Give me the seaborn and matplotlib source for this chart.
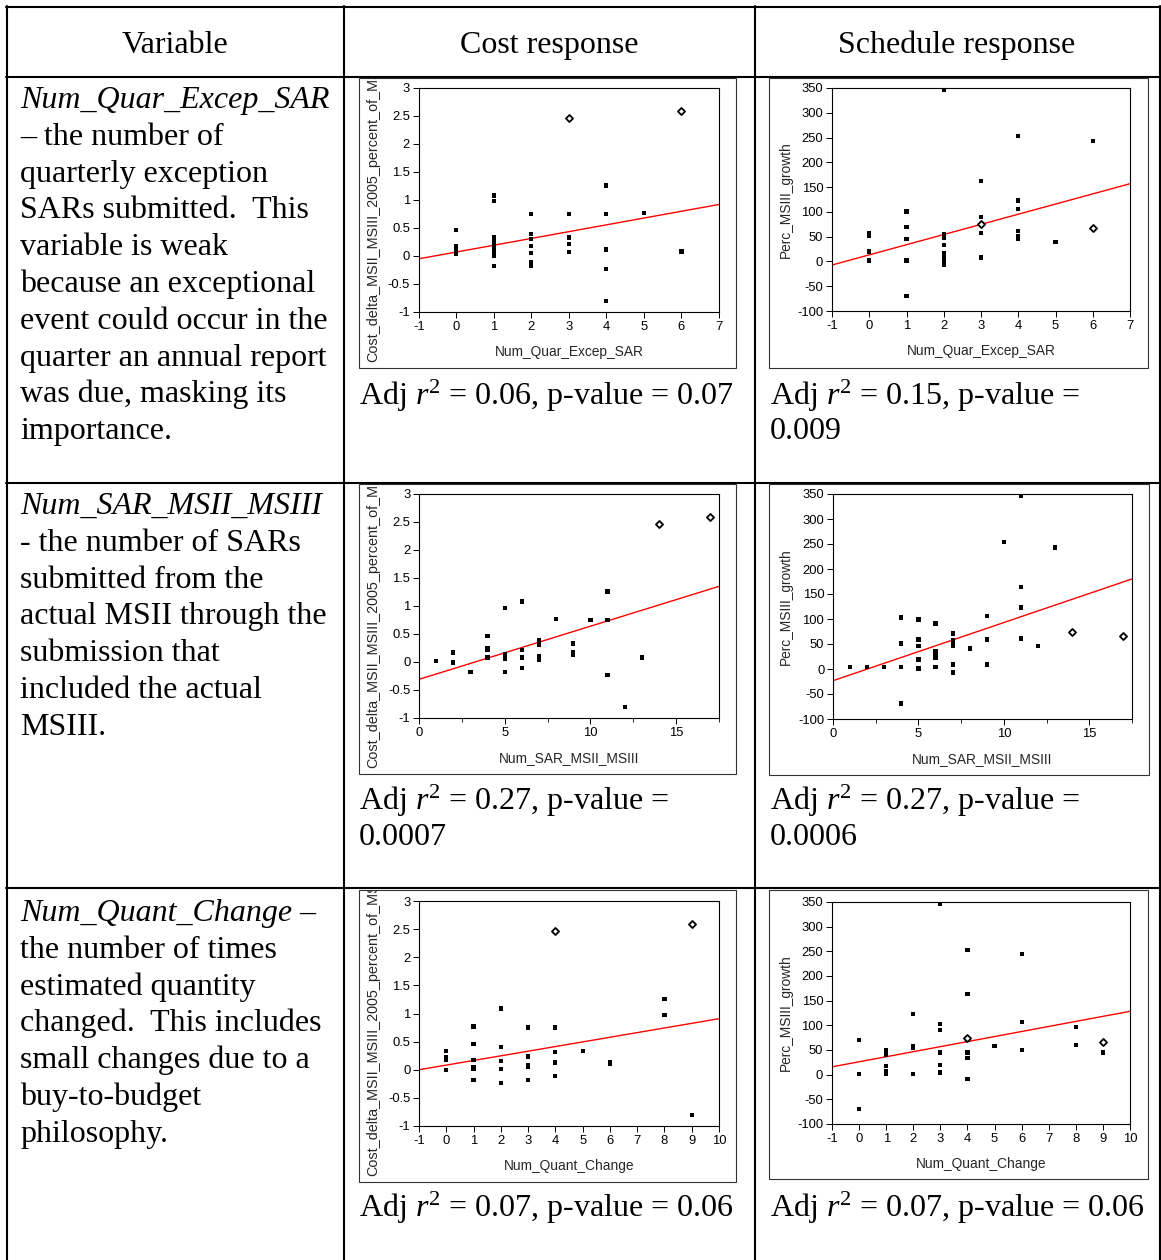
import numpy as np
import pandas as pd
import seaborn as sns
import matplotlib.pyplot as plt
from matplotlib.lines import Line2D
from matplotlib.patches import Rectangle
from matplotlib.ticker import FuncFormatter

# ---- data ----
quar_cost_x = [0, 0, 0, 0, 0, 1, 1, 1, 1, 1, 1, 1, 1, 1, 1, 1, 2, 2, 2, 2, 2, 2, 2, 2,
               3, 3, 3, 3, 4, 4, 4, 4, 4, 4, 5, 6]
quar_cost_y = [0.46, 0.17, 0.13, 0.08, 0.03, 1.08, 0.98, 0.33, 0.27, 0.22, 0.19, 0.14, 0.10,
               0.04, 0.01, -0.18, 0.75, 0.39, 0.31, 0.18, 0.05, -0.11, -0.15, -0.18,
               0.75, 0.33, 0.22, 0.07, 1.26, 0.75, 0.13, 0.10, -0.23, -0.80, 0.77, 0.08]

quar_sched_x = [0, 0, 0, 0, 1, 1, 1, 1, 1, 1, 1, 2, 2, 2, 2, 2, 2, 2, 2, 3, 3, 3, 3,
                4, 4, 4, 4, 4, 4, 5, 6]
quar_sched_y = [57, 52, 20, 2, 102, 99, 70, 45, 3, 2, -70, 346, 56, 48, 33, 17, 8, 2, -6,
                163, 90, 58, 8, 253, 123, 106, 61, 51, 45, 40, 243]

sar_cost_x = [1, 2, 2, 3, 4, 4, 4, 4, 5, 5, 5, 5, 5, 6, 6, 6, 6, 7, 7, 7, 7, 7, 7, 8,
              9, 9, 9, 10, 11, 11, 11, 12, 13]
sar_cost_y = [0.02, 0.17, -0.01, -0.18, 0.46, 0.24, 0.22, 0.08, 0.97, 0.15, 0.13, 0.05, -0.18,
              1.08, 0.22, 0.08, -0.11, 0.39, 0.35, 0.31, 0.10, 0.07, 0.04, 0.77,
              0.33, 0.17, 0.13, 0.75, 1.26, 0.75, -0.23, -0.80, 0.08]

sar_sched_x = [1, 2, 3, 4, 4, 4, 4, 5, 5, 5, 5, 5, 6, 6, 6, 6, 6, 7, 7, 7, 7, 7, 7, 8,
               9, 9, 9, 10, 11, 11, 11, 11, 12, 13]
sar_sched_y = [4, 4, 4, 103, 51, 4, -69, 99, 59, 46, 19, 1, 91, 35, 31, 22, 4,
               71, 58, 51, 46, 9, -7, 41, 106, 59, 9, 254, 346, 164, 123, 61, 46, 243]

quant_cost_x = [0, 0, 0, 0, 1, 1, 1, 1, 1, 1, 2, 2, 2, 2, 2, 3, 3, 3, 3, 3, 3,
                4, 4, 4, 4, 5, 6, 6, 8, 8, 9]
quant_cost_y = [0.33, 0.22, 0.18, 0.0, 0.77, 0.46, 0.17, 0.04, 0.02, -0.18, 1.09, 0.40, 0.15,
                0.02, -0.23, 0.75, 0.24, 0.22, 0.09, 0.05, -0.18, 0.75, 0.31, 0.13, -0.11,
                0.33, 0.13, 0.10, 1.26, 0.97, -0.80]

quant_sched_x = [0, 0, 0, 1, 1, 1, 1, 1, 1, 2, 2, 2, 2, 3, 3, 3, 3, 3, 3, 3,
                 4, 4, 4, 4, 4, 4, 5, 6, 6, 6, 8, 8, 9]
quant_sched_y = [70, 2, -70, 50, 41, 18, 8, 4, 1, 123, 57, 55, 2, 346, 102, 91, 45, 20, 6, 4,
                 253, 163, 70, 45, 33, -8, 58, 244, 106, 50, 97, 60, 45]

# the two flagged programs (diamonds)
quar_out = [3, 6]
sar_out = [14, 17]
quant_out = [4, 9]
cost_out = [2.46, 2.59]
sched_out = [75, 67]

# fitted lines (intercept, slope)
fit_quar_cost = (0.071, 0.1213)
fit_quar_sched = (13.3, 20.5)
fit_sar_cost = (-0.31, 0.0949)
fit_sar_sched = (-23.4, 11.63)
fit_quant_cost = (0.0825, 0.0825)
fit_quant_sched = (26.1, 10.23)

cost_ticks = [-1, -0.5, 0, 0.5, 1, 1.5, 2, 2.5, 3]
sched_ticks = [-100, -50, 0, 50, 100, 150, 200, 250, 300, 350]
quar_ticks = [-1, 0, 1, 2, 3, 4, 5, 6, 7]
sar_ticks = [0, 5, 10, 15]
sar_minor = [2.5, 7.5, 12.5, 17.5]
quant_ticks = [-1, 0, 1, 2, 3, 4, 5, 6, 7, 8, 9, 10]

headers = ['Variable', 'Cost response', 'Schedule response']
row1_text = ['Num_Quar_Excep_SAR', '\u2013 the number of', 'quarterly exception',
             'SARs submitted.  This', 'variable is weak', 'because an exceptional',
             'event could occur in the', 'quarter an annual report',
             'was due, masking its', 'importance.']
row2_text = ['Num_SAR_MSII_MSIII', '- the number of SARs', 'submitted from the',
             'actual MSII through the', 'submission that', 'included the actual', 'MSIII.']
row3_text = ['Num_Quant_Change', 'the number of times', 'estimated quantity',
             'changed.  This includes', 'small changes due to a', 'buy-to-budget',
             'philosophy.']

sns.set_style('ticks')
plt.rcParams['font.family'] = ['Liberation Sans', 'DejaVu Sans']
plt.rcParams['axes.unicode_minus'] = False
plt.rcParams['mathtext.fontset'] = 'custom'
plt.rcParams['mathtext.rm'] = 'Liberation Serif'
plt.rcParams['mathtext.it'] = 'Liberation Serif:italic'

W, H = 1161, 1260
fig = plt.figure(figsize=(W / 100, H / 100), dpi=100)
fig.patch.set_facecolor('white')


def fx(x):
    return x / W


def fy(y):
    return 1 - y / H


serif = dict(family=['Liberation Serif', 'DejaVu Serif'], fontsize=23, color='black')

# ---- table grid ----
for y in [7, 77, 483, 888]:
    fig.add_artist(Line2D([fx(6), fx(1161)], [fy(y), fy(y)], transform=fig.transFigure,
                          color='black', lw=1.5))
for x in [7, 344, 755, 1159.5]:
    fig.add_artist(Line2D([fx(x), fx(x)], [fy(6), fy(1260)], transform=fig.transFigure,
                          color='black', lw=1.5))

for txt, cx in zip(headers, [175.5, 549.5, 957]):
    fig.text(fx(cx), fy(53), txt, ha='center', va='baseline', **serif)


def write_lines(lines, y0, step=36.8):
    for i, line in enumerate(lines):
        st = 'italic' if i == 0 else 'normal'
        fig.text(fx(20), fy(y0 + i * step), line, ha='left', va='baseline', style=st, **serif)


write_lines(row1_text, 108)
write_lines(row2_text, 514)
write_lines(row3_text, 921)
renderer = fig.canvas.get_renderer()
last = [t for t in fig.texts if t.get_text() == 'Num_Quant_Change'][0]
bb = last.get_window_extent(renderer=renderer)
fig.text(bb.x1 / W, fy(921), ' \u2013', ha='left', va='baseline', **serif)

# ---- captions ----
captions = [
    (359, 405, 'Adj $r^2$ = 0.06, p-value = 0.07'),
    (770, 405, 'Adj $r^2$ = 0.15, p-value ='),
    (770, 439, '0.009'),
    (359, 810, 'Adj $r^2$ = 0.27, p-value ='),
    (359, 845, '0.0007'),
    (770, 810, 'Adj $r^2$ = 0.27, p-value ='),
    (770, 845, '0.0006'),
    (359, 1217, 'Adj $r^2$ = 0.07, p-value = 0.06'),
    (770, 1217, 'Adj $r^2$ = 0.07, p-value = 0.06'),
]
for x, y, txt in captions:
    fig.text(fx(x), fy(y), txt, ha='left', va='baseline', **serif)


# ---- scatter panels ----
def panel(frame, box, x, y, ox, oy, fit, xlim, xticks, ylim, yticks, xlabel, ylabel,
          cost, minor=None):
    fx0, fy0, fx1, fy1 = frame
    rect = Rectangle((fx(fx0), fy(fy1)), (fx1 - fx0) / W, (fy1 - fy0) / H,
                     transform=fig.transFigure, fill=False, edgecolor='#333333', lw=0.8)
    fig.add_artist(rect)

    x0, y0, x1, y1 = box
    ax = fig.add_axes([fx(x0), fy(y1), (x1 - x0) / W, (y1 - y0) / H])
    ax.axline((0, fit[0]), slope=fit[1], color='red', lw=1.0, zorder=2)
    sns.scatterplot(x=x, y=y, ax=ax, marker='s', s=9, color='black', edgecolor='none',
                    linewidth=0, zorder=3)
    sns.scatterplot(x=ox, y=oy, ax=ax, marker='D', s=13, color='white', edgecolor='black',
                    linewidth=1.3, zorder=4)
    ax.set_xlim(xlim)
    ax.set_ylim(ylim)
    ax.set_xticks(xticks)
    ax.set_yticks(yticks)
    if minor is not None:
        ax.set_xticks(minor, minor=True)
    fmt = FuncFormatter(lambda v, p: '%g' % v)
    ax.xaxis.set_major_formatter(fmt)
    ax.yaxis.set_major_formatter(fmt)
    ax.tick_params(which='major', direction='out', length=4.3, width=0.7, labelsize=9.4,
                   pad=2, colors='black')
    ax.tick_params(which='minor', direction='out', length=2.6, width=0.7)
    for sp in ax.spines.values():
        sp.set_visible(True)
        sp.set_linewidth(0.8)
        sp.set_color('black')
    ax.set_xlabel('')
    ax.set_ylabel('')

    fig.text(fx((x0 + x1) / 2), fy(y1 + 40), xlabel, ha='center', va='center', fontsize=9.9)
    if cost:
        t = fig.text(fx(373), fy(fy1 - 6), ylabel, ha='center', va='bottom', rotation=90,
                     fontsize=10.4)
        t.set_clip_path(rect)
    else:
        fig.text(fx(786), fy((y0 + y1) / 2), ylabel, ha='center', va='center', rotation=90,
                 fontsize=9.9)
    return ax


cost_label = 'Cost_delta_MSII_MSIII_2005_percent_of_MSIII'
sched_label = 'Perc_MSIII_growth'

panel((359, 78, 736, 368), (418.7, 88, 719, 312), quar_cost_x, quar_cost_y, quar_out, cost_out,
      fit_quar_cost, (-1, 7), quar_ticks, (-1, 3), cost_ticks, 'Num_Quar_Excep_SAR',
      cost_label, True)
panel((769, 78, 1148, 368), (832, 88, 1130, 311), quar_sched_x, quar_sched_y, quar_out,
      sched_out, fit_quar_sched, (-1, 7), quar_ticks, (-100, 350), sched_ticks,
      'Num_Quar_Excep_SAR', sched_label, False)
panel((359, 484, 736, 774), (419, 494, 719, 718), sar_cost_x, sar_cost_y, sar_out, cost_out,
      fit_sar_cost, (0, 17.5), sar_ticks, (-1, 3), cost_ticks, 'Num_SAR_MSII_MSIII',
      cost_label, True, minor=sar_minor)
panel((769, 484, 1149, 775), (833, 494, 1132, 719), sar_sched_x, sar_sched_y, sar_out,
      sched_out, fit_sar_sched, (0, 17.5), sar_ticks, (-100, 350), sched_ticks,
      'Num_SAR_MSII_MSIII', sched_label, False, minor=sar_minor)
panel((359, 890, 736, 1182), (419, 901, 719, 1126), quant_cost_x, quant_cost_y, quant_out,
      cost_out, fit_quant_cost, (-1, 10), quant_ticks, (-1, 3), cost_ticks,
      'Num_Quant_Change', cost_label, True)
panel((769, 890, 1148, 1179), (832, 902, 1130, 1124), quant_sched_x, quant_sched_y, quant_out,
      sched_out, fit_quant_sched, (-1, 10), quant_ticks, (-100, 350), sched_ticks,
      'Num_Quant_Change', sched_label, False)

fig.savefig('out.png', dpi=100)
